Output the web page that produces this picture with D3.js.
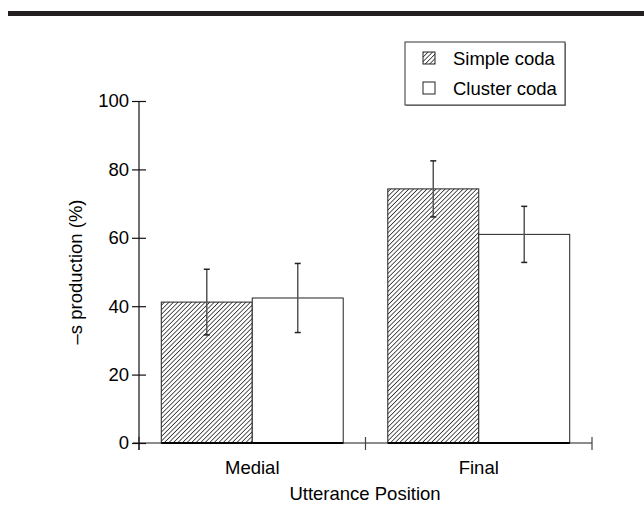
<!DOCTYPE html>
<html lang="en">
<head>
  <meta charset="UTF-8" />
  <title>-s production by utterance position</title>
  <script src="https://cdnjs.cloudflare.com/ajax/libs/d3/7.8.4/d3.min.js"></script>
  <style>
    body {
      margin: 0;
      background: #fff;
      font-family: "Liberation Sans", Arial, sans-serif;
    }
    svg text {
      fill: #000;
      font-size: 18.5px;
    }
  </style>
</head>
<body>
  <svg width="644" height="523"></svg>
  <script>
    // data
    const categories = ["Medial", "Final"];
    const series = ["Simple coda", "Cluster coda"];
    const simpleVals = [41.2, 74.3];
    const simpleErr = [9.6, 8.2];
    const clusterVals = [42.4, 61.0];
    const clusterErr = [10.1, 8.2];
    const yTicks = [0, 20, 40, 60, 80, 100];

    const svg = d3.select("svg");

    // thick rule across the top of the page
    svg.append("rect")
      .attr("x", 8).attr("y", 11)
      .attr("width", 636).attr("height", 5)
      .attr("fill", "#231f20");

    const defs = svg.append("defs");
    const pat = defs.append("pattern")
      .attr("id", "hatch")
      .attr("patternUnits", "userSpaceOnUse")
      .attr("width", 3.2).attr("height", 3.2)
      .attr("patternTransform", "rotate(45)");
    pat.append("rect").attr("width", 3.2).attr("height", 3.2).attr("fill", "#fff");
    pat.append("line")
      .attr("x1", 0).attr("y1", 0).attr("x2", 0).attr("y2", 3.2)
      .attr("stroke", "#222").attr("stroke-width", 1.5);

    const y = d3.scaleLinear().domain([0, 100]).range([443, 101]);
    const x = d3.scaleBand().domain(categories).range([139, 592]).padding(0);
    const xs = d3.scaleBand().domain(series).range([0, x.bandwidth()])
      .paddingInner(0).paddingOuter(0.245);

    const rows = [];
    categories.forEach((c, i) => {
      rows.push({ cat: c, s: series[0], v: simpleVals[i], e: simpleErr[i] });
      rows.push({ cat: c, s: series[1], v: clusterVals[i], e: clusterErr[i] });
    });

    // x axis line with ticks crossing it
    svg.append("line")
      .attr("x1", 133).attr("x2", 592)
      .attr("y1", y(0)).attr("y2", y(0))
      .attr("stroke", "#666").attr("stroke-width", 1.5);
    const xTickPos = [139, x("Final"), 592];
    svg.selectAll(".xtick")
      .data(xTickPos)
      .enter().append("line")
      .attr("x1", d => d).attr("x2", d => d)
      .attr("y1", y(0) - 6).attr("y2", y(0) + 7)
      .attr("stroke", "#444").attr("stroke-width", 1.2);

    // bars
    svg.selectAll(".bar")
      .data(rows)
      .enter().append("rect")
      .attr("x", d => x(d.cat) + xs(d.s))
      .attr("y", d => y(d.v))
      .attr("width", xs.bandwidth())
      .attr("height", d => y(0) - y(d.v))
      .attr("fill", d => d.s === series[0] ? "url(#hatch)" : "#fff")
      .attr("stroke", "#222")
      .attr("stroke-width", 1);

    // heavy base under bars
    svg.selectAll(".base")
      .data(rows)
      .enter().append("line")
      .attr("x1", d => x(d.cat) + xs(d.s))
      .attr("x2", d => x(d.cat) + xs(d.s) + xs.bandwidth())
      .attr("y1", y(0)).attr("y2", y(0))
      .attr("stroke", "#000").attr("stroke-width", 2);

    // error bars
    const eb = svg.selectAll(".err")
      .data(rows)
      .enter().append("g")
      .attr("transform", d => `translate(${x(d.cat) + xs(d.s) + xs.bandwidth() / 2},0)`);
    eb.append("line")
      .attr("y1", d => y(d.v + d.e)).attr("y2", d => y(d.v - d.e))
      .attr("stroke", "#555").attr("stroke-width", 1.5);
    eb.append("line")
      .attr("x1", -3).attr("x2", 3)
      .attr("y1", d => y(d.v + d.e)).attr("y2", d => y(d.v + d.e))
      .attr("stroke", "#222").attr("stroke-width", 1.5);
    eb.append("line")
      .attr("x1", -3).attr("x2", 3)
      .attr("y1", d => y(d.v - d.e)).attr("y2", d => y(d.v - d.e))
      .attr("stroke", "#222").attr("stroke-width", 1.5);

    // y axis
    const yAxis = svg.append("g")
      .attr("transform", "translate(139,0)")
      .call(d3.axisLeft(y).tickValues(yTicks).tickSize(7).tickPadding(3));
    yAxis.select(".domain").remove();
    yAxis.append("line")
      .attr("x1", 0).attr("x2", 0)
      .attr("y1", y(100)).attr("y2", y(0) + 7)
      .attr("stroke", "#111").attr("stroke-width", 1.2);
    yAxis.selectAll(".tick line")
      .attr("x1", 7).attr("x2", -7)
      .attr("stroke", "#111").attr("stroke-width", 1.2);
    yAxis.selectAll(".tick text")
      .attr("x", -10)
      .style("font-size", "18.5px")
      .style("font-family", "'Liberation Sans', Arial, sans-serif")
      .attr("fill", "#000");

    // category labels
    svg.selectAll(".catlabel")
      .data(categories)
      .enter().append("text")
      .attr("x", d => x(d) + x.bandwidth() / 2)
      .attr("y", 474)
      .attr("text-anchor", "middle")
      .text(d => d);

    svg.append("text")
      .attr("x", 365).attr("y", 500)
      .attr("text-anchor", "middle")
      .text("Utterance Position");

    svg.append("text")
      .attr("transform", `translate(82,${(y(0) + y(100)) / 2}) rotate(-90)`)
      .attr("text-anchor", "middle")
      .text("\u2013s production (%)");

    // legend
    const lg = svg.append("g");
    lg.append("rect")
      .attr("x", 406).attr("y", 43)
      .attr("width", 160).attr("height", 63)
      .attr("fill", "#999");
    lg.append("rect")
      .attr("x", 405).attr("y", 42)
      .attr("width", 160).attr("height", 63)
      .attr("fill", "#fff").attr("stroke", "#333").attr("stroke-width", 1);
    const li = lg.selectAll(".item")
      .data(series)
      .enter().append("g")
      .attr("transform", (d, i) => `translate(423,${52 + i * 30})`);
    li.append("rect")
      .attr("width", 12).attr("height", 12)
      .attr("fill", (d, i) => i === 0 ? "url(#hatch)" : "#fff")
      .attr("stroke", "#222").attr("stroke-width", 1);
    li.append("text")
      .attr("x", 30).attr("y", 13)
      .text(d => d);
  </script>
</body>
</html>
